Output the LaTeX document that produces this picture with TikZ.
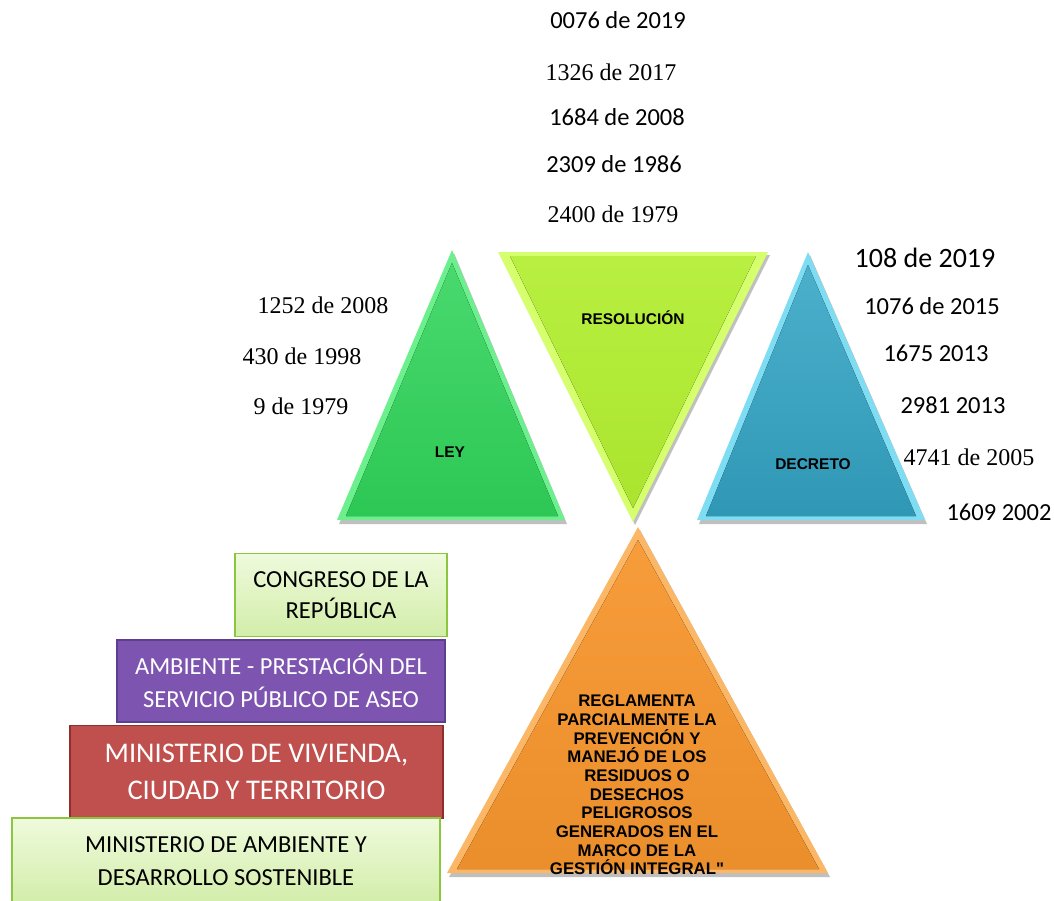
\documentclass[tikz,border=0pt]{standalone}
\usepackage{fontspec}
\usepackage{tikz}
\newfontfamily\calib{Carlito}
\newfontfamily\tnr{Liberation Serif}
\newfontfamily\arl{Liberation Sans}
\definecolor{leygreen}{HTML}{30D45A}
\definecolor{leyedge}{HTML}{6CF08E}
\definecolor{reslime}{HTML}{B2EE30}
\definecolor{resedge}{HTML}{D6FF6E}
\definecolor{decteal}{HTML}{33A5C5}
\definecolor{decedge}{HTML}{7EDDF2}
\definecolor{orgmain}{HTML}{F7962E}
\definecolor{orgedge}{HTML}{FBB766}
\definecolor{boxgreen}{HTML}{E4F7C4}
\definecolor{boxline}{HTML}{8CC540}
\definecolor{boxpurple}{HTML}{7D55B1}
\definecolor{purpline}{HTML}{5E3E8E}
\definecolor{boxred}{HTML}{C0504D}
\definecolor{redline}{HTML}{8E2F2C}
\tikzset{
  cal/.style={font=\calib\fontsize{24.5}{30}\selectfont, inner sep=0pt},
  tms/.style={font=\tnr\fontsize{24}{30}\selectfont, inner sep=0pt},
  tri label/.style={font=\arl\bfseries\fontsize{15.5}{18}\selectfont, inner sep=0pt},
  lightbox/.style={draw=boxline, line width=1.2pt, top color=boxgreen!60!white, bottom color=boxgreen!80!boxline, inner sep=0pt, align=center, text=black},
  purplebox/.style={draw=purpline, line width=1.2pt, fill=boxpurple, inner sep=0pt, align=center, text=white},
  redbox/.style={draw=redline, line width=1.5pt, fill=boxred, inner sep=0pt, align=center, text=white},
  shade tri/.style={fill=black, opacity=0.25}
}
\begin{document}
\begin{tikzpicture}[x=1pt,y=-1pt]
\useasboundingbox (0,0) rectangle (1054,900);
\clip (0,0) rectangle (1054,900);
% LEY
\fill [shade tri] (454,253) -- (339,524) -- (567,524) -- cycle;
\fill [leyedge] (452,250) -- (337,520) -- (565,520) -- cycle;
\fill [top color=leygreen!88!white, bottom color=leygreen!94!black] (452,263) -- (346,516) -- (558,516) -- cycle;
\node [tri label] (ley) at (450,452) {LEY};
% RESOLUCION
\fill [shade tri] (500,255) -- (770,255) -- (635,525) -- cycle;
\fill [resedge] (498,252) -- (768,252) -- (633,522) -- cycle;
\fill [top color=reslime!92!white, bottom color=reslime!96!black] (510,256) -- (756,256) -- (633,508) -- cycle;
\node [tri label] (resolucion) at (633,318) {RESOLUCIÓN};
% DECRETO
\fill [shade tri] (810,255) -- (699,524) -- (927,524) -- cycle;
\fill [decedge] (808,252) -- (697,520) -- (925,520) -- cycle;
\fill [top color=decteal!88!white, bottom color=decteal!92!black] (808,265) -- (706,516) -- (916,516) -- cycle;
\node [tri label] (decreto) at (813,464) {DECRETO};
% orange triangle
\fill [shade tri] (640,530) -- (449,877) -- (830,877) -- cycle;
\fill [orgedge] (638,527) -- (447,873) -- (828,873) -- cycle;
\fill [top color=orgmain!94!white, bottom color=orgmain!95!black] (638,540) -- (457,869) -- (819,869) -- cycle;
\node [tri label, font=\arl\bfseries\fontsize{16.8}{18.7}\selectfont, align=center] (reglamenta) at (637,785)
  {REGLAMENTA\\PARCIALMENTE  LA\\PREVENCIÓN Y\\MANEJÓ DE LOS\\RESIDUOS O\\DESECHOS\\PELIGROSOS\\GENERADOS EN EL\\MARCO DE LA\\GESTIÓN INTEGRAL"};
% resolution numbers
\node [cal] (r1) at (618,20) {0076 de 2019};
\node [tms] (r2) at (611,72) {1326 de 2017};
\node [cal] (r3) at (617,117) {1684 de 2008};
\node [cal] (r4) at (614,164) {2309 de 1986};
\node [tms] (r5) at (613,214) {2400 de 1979};
% law numbers
\node [tms] (l1) at (323,305) {1252 de 2008};
\node [tms] (l2) at (302,356) {430 de 1998};
\node [tms] (l3) at (301,406) {9 de 1979};
% decree numbers
\node [cal, font=\calib\fontsize{28}{34}\selectfont] (d1) at (925,258) {108 de 2019};
\node [cal] (d2) at (932,306) {1076 de 2015};
\node [cal] (d3) at (936,353) {1675 2013};
\node [cal] (d4) at (953,405) {2981 2013};
\node [tms] (d5) at (969,457) {4741 de 2005};
\node [cal] (d6) at (999,512) {1609 2002};
% entities
\node [lightbox, cal, minimum width=212, minimum height=83] (congreso) at (341,595) {CONGRESO DE LA\\[1pt]REPÚBLICA};
\node [purplebox, cal, minimum width=328, minimum height=82] (ambiente) at (281,681) {AMBIENTE - PRESTACIÓN DEL\\[3pt]SERVICIO PÚBLICO DE ASEO};
\node [redbox, cal, font=\calib\fontsize{28.5}{36}\selectfont, minimum width=373, minimum height=93] (vivienda) at (256.5,772) {MINISTERIO DE VIVIENDA,\\[1pt]CIUDAD Y TERRITORIO};
\node [lightbox, cal, minimum width=428, minimum height=86] (minambiente) at (226,861) {MINISTERIO DE AMBIENTE Y\\[3pt]DESARROLLO SOSTENIBLE};
\end{tikzpicture}
\end{document}
